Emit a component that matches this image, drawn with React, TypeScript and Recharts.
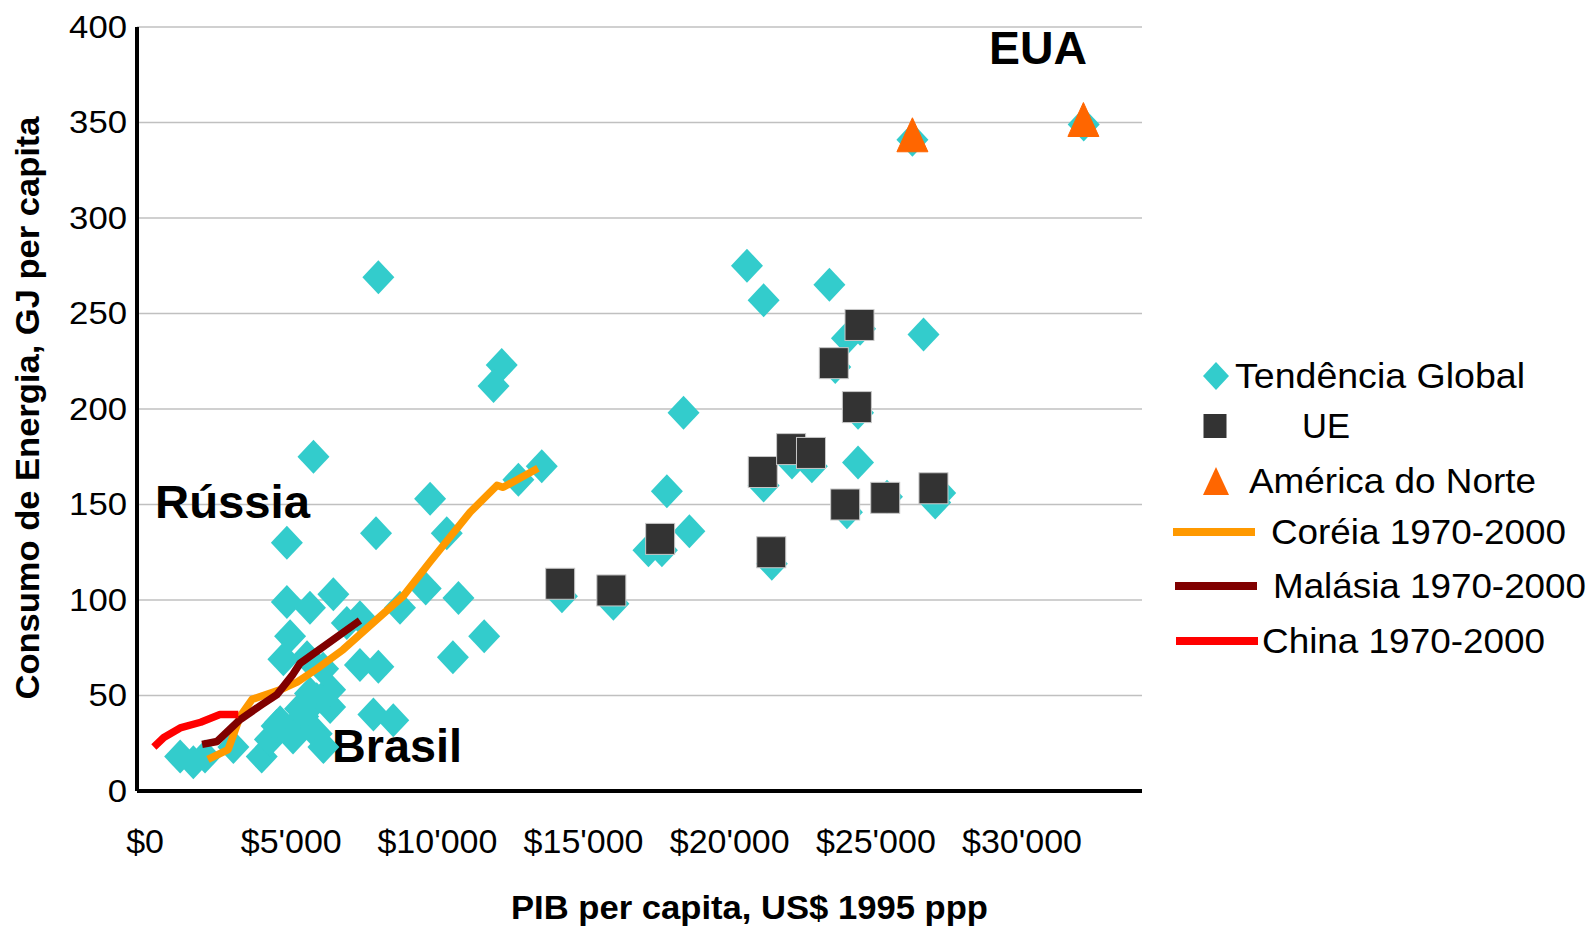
import { ScatterChart, Scatter, XAxis, YAxis, CartesianGrid, Customized } from 'recharts';

// Tendência Global (PIB per capita, GJ per capita)
const globalGdp = [
  1200, 1650, 2050, 3020, 3990, 4270, 4500, 4850, 5640, 6440, 4960, 4730, 6900, 7350, 8720, 9600,
  7350, 7980, 7810, 8490, 5870, 6330, 5410, 4850, 5870, 6100, 6330, 5640, 5540, 6090, 5300, 4620, 5060,
  4850, 5760, 7980, 12200, 11920, 9750, 7900, 10320, 12770, 13570, 10720, 11600, 10530,
  20590, 21160, 23410, 24010, 24460, 26630, 18420, 17850, 18620, 17220, 17680, 24390, 23610, 24390,
  21160, 22130, 22810, 24010, 25380, 27030, 27200, 21440, 14260, 16020, 26250, 32110,
];
const globalEnergy = [
  18, 15, 18, 23, 18, 27, 34, 99, 96, 103, 81, 69, 88, 91, 96, 106,
  66, 65, 40, 37, 48, 44, 39, 32, 30, 23, 53, 51, 70, 64, 43, 36, 28,
  130, 175, 269, 223, 212, 153, 135, 135, 163, 170, 101, 81, 70,
  275, 257, 265, 237, 242, 239, 198, 157, 136, 126, 126, 172, 222, 198,
  160, 172, 170, 146, 154, 151, 156, 119, 102, 98, 341, 349,
];

const euGdp = [14200, 15950, 17620, 21130, 21420, 22100, 22780, 23560, 24440, 24350, 23950, 25320, 26970];
const euEnergy = [108.5, 105, 132, 167, 125, 179, 177, 224, 244, 201, 150, 153.5, 158.5];

const naGdp = [26250, 32100];
const naEnergy = [342, 350];

const koreaGdp = [2150, 2840, 3250, 3660, 4620, 5200, 5880, 6770, 7940, 8830, 9750, 11120, 12040, 12250, 13440];
const koreaEnergy = [16.5, 21.7, 39, 48, 53, 57, 64, 74, 90, 102, 120, 146, 160, 159, 169];

const malaysiaGdp = [1950, 2460, 3250, 4000, 4510, 5030, 5300, 7350];
const malaysiaEnergy = [24.4, 25.9, 37.4, 45.3, 50.5, 60.5, 66.8, 89.3];

const chinaGdp = [300, 640, 1200, 1900, 2560, 3190];
const chinaEnergy = [23, 28, 33, 36, 40, 40];

const xTicks = [0, 5000, 10000, 15000, 20000, 25000, 30000];
const yTicks = [0, 50, 100, 150, 200, 250, 300, 350, 400];

const legendItems = [
  { name: 'Tendência Global', icon: 'diamond', color: '#33CCCC' },
  { name: 'UE', icon: 'square', color: '#333333' },
  { name: 'América do Norte', icon: 'triangle', color: '#FF6600' },
  { name: 'Coréia 1970-2000', icon: 'line', color: '#FF9900' },
  { name: 'Malásia 1970-2000', icon: 'line', color: '#800000' },
  { name: 'China 1970-2000', icon: 'line', color: '#FF0000' },
];

const zip = (xs: number[], ys: number[]) => xs.map((x, i) => ({ x, y: ys[i] }));

const FONT = '"Liberation Sans", Arial, sans-serif';

const Diamond = (p: any) => (
  <polygon
    points={`${p.cx},${p.cy - 17} ${p.cx + 16},${p.cy} ${p.cx},${p.cy + 17} ${p.cx - 16},${p.cy}`}
    fill="#33CCCC"
  />
);

const Square = (p: any) => (
  <rect x={p.cx - 14.5} y={p.cy - 15.5} width={29} height={31} fill="#333333" stroke="#c8c8c8" strokeWidth={1} />
);

const Triangle = (p: any) => (
  <polygon
    points={`${p.cx},${p.cy - 20} ${p.cx + 15.5},${p.cy + 14} ${p.cx - 15.5},${p.cy + 14}`}
    fill="#FF6600"
    strokeLinejoin="round"
    stroke="#FF6600"
    strokeWidth={1}
  />
);

const NoDot = () => <g />;

// the connecting path of a line series, from the points Recharts has already scaled
const trendPath = (color: string) => (props: any) => {
  const pts = props.points || [];
  const d = pts.map((p: any, i: number) => `${i === 0 ? 'M' : 'L'}${p.cx ?? p.x},${p.cy ?? p.y}`).join(' ');
  return <path d={d} fill="none" stroke={color} strokeWidth={7.5} strokeLinejoin="round" />;
};

const formatGdp = (v: number) => (v === 0 ? '$0' : '$' + String(v).replace(/\B(?=(\d{3})+(?!\d))/g, "'"));

const YTick = ({ x, y, payload }: any) => (
  <text
    transform={`translate(${x},${y}) scale(1.12,1)`}
    textAnchor="end"
    dy="0.35em"
    fontSize={31}
    fontFamily={FONT}
    fill="#000"
  >
    {payload.value}
  </text>
);

// legend row layout (icon centre x, text start x, row centre y, text width)
const legendRows = [
  { iconX: 1216, textX: 1235, y: 376, w: 290 },
  { iconX: 1215, textX: 1302, y: 426, w: 48 },
  { iconX: 1216, textX: 1249, y: 481, w: 287 },
  { iconX: 1214, textX: 1271, y: 532, w: 295 },
  { iconX: 1216, textX: 1273, y: 586, w: 313 },
  { iconX: 1217, textX: 1262, y: 641, w: 283 },
];

const Overlay = () => (
  <g fontFamily={FONT}>
    <text x={989} y={64} fontSize={46} fontWeight="bold" textLength={98} lengthAdjust="spacingAndGlyphs">EUA</text>
    <text x={155} y={518} fontSize={46} fontWeight="bold" textLength={155} lengthAdjust="spacingAndGlyphs">Rússia</text>
    <text x={332} y={762} fontSize={46} fontWeight="bold" textLength={130} lengthAdjust="spacingAndGlyphs">Brasil</text>

    <text x={511} y={919} fontSize={33} fontWeight="bold" textLength={477} lengthAdjust="spacingAndGlyphs">
      PIB per capita, US$ 1995 ppp
    </text>
    <text
      transform="translate(39,408) rotate(-90)"
      textAnchor="middle"
      fontSize={33}
      fontWeight="bold"
      textLength={583}
      lengthAdjust="spacingAndGlyphs"
    >
      Consumo de Energia, GJ per capita
    </text>

    {legendItems.map((item, i) => {
      const r = legendRows[i];
      let icon = null;
      if (item.icon === 'diamond') {
        icon = <polygon points={`${r.iconX},${r.y - 14} ${r.iconX + 13},${r.y} ${r.iconX},${r.y + 14} ${r.iconX - 13},${r.y}`} fill={item.color} />;
      } else if (item.icon === 'square') {
        icon = <rect x={r.iconX - 11.5} y={r.y - 12} width={23} height={24} fill={item.color} />;
      } else if (item.icon === 'triangle') {
        icon = <polygon points={`${r.iconX},${r.y - 14} ${r.iconX + 13},${r.y + 14} ${r.iconX - 13},${r.y + 14}`} fill={item.color} />;
      } else {
        icon = <line x1={r.iconX - 41} x2={r.iconX + 41} y1={r.y} y2={r.y} stroke={item.color} strokeWidth={8} />;
      }
      return (
        <g key={item.name}>
          {icon}
          <text x={r.textX} y={r.y + 12} fontSize={35} fill="#000" textLength={r.w} lengthAdjust="spacingAndGlyphs">
            {item.name}
          </text>
        </g>
      );
    })}
  </g>
);

export default function App() {
  return (
    <div style={{ position: 'absolute', left: 0, top: 0, background: '#fff' }}>
      <ScatterChart width={1591} height={927} margin={{ top: 27, right: 449, bottom: 0, left: 0 }}>
        <CartesianGrid vertical={false} stroke="#c0c0c0" strokeWidth={1.5} />
        <XAxis
          type="number"
          dataKey="x"
          domain={[-277, 34104]}
          ticks={xTicks}
          tickFormatter={formatGdp}
          height={136}
          axisLine={{ stroke: '#000', strokeWidth: 4 }}
          tickLine={false}
          tickSize={0}
          tickMargin={38}
          tick={{ fontSize: 34, fill: '#000', fontFamily: FONT }}
          allowDataOverflow
        />
        <YAxis
          type="number"
          dataKey="y"
          domain={[0, 400]}
          ticks={yTicks}
          width={137}
          axisLine={{ stroke: '#000', strokeWidth: 4 }}
          tickLine={false}
          tickSize={0}
          tickMargin={10}
          tick={<YTick />}
        />
        <Scatter name="Tendência Global" data={zip(globalGdp, globalEnergy)} shape={Diamond} isAnimationActive={false} />
        <Scatter name="UE" data={zip(euGdp, euEnergy)} shape={Square} isAnimationActive={false} />
        <Scatter name="América do Norte" data={zip(naGdp, naEnergy)} shape={Triangle} isAnimationActive={false} />
        <Scatter
          name="Coréia 1970-2000"
          data={zip(koreaGdp, koreaEnergy)}
          line={trendPath('#FF9900')}
          shape={NoDot}
          isAnimationActive={false}
        />
        <Scatter
          name="Malásia 1970-2000"
          data={zip(malaysiaGdp, malaysiaEnergy)}
          line={trendPath('#800000')}
          shape={NoDot}
          isAnimationActive={false}
        />
        <Scatter
          name="China 1970-2000"
          data={zip(chinaGdp, chinaEnergy)}
          line={trendPath('#FF0000')}
          shape={NoDot}
          isAnimationActive={false}
        />
        <Customized component={Overlay} />
      </ScatterChart>
    </div>
  );
}
